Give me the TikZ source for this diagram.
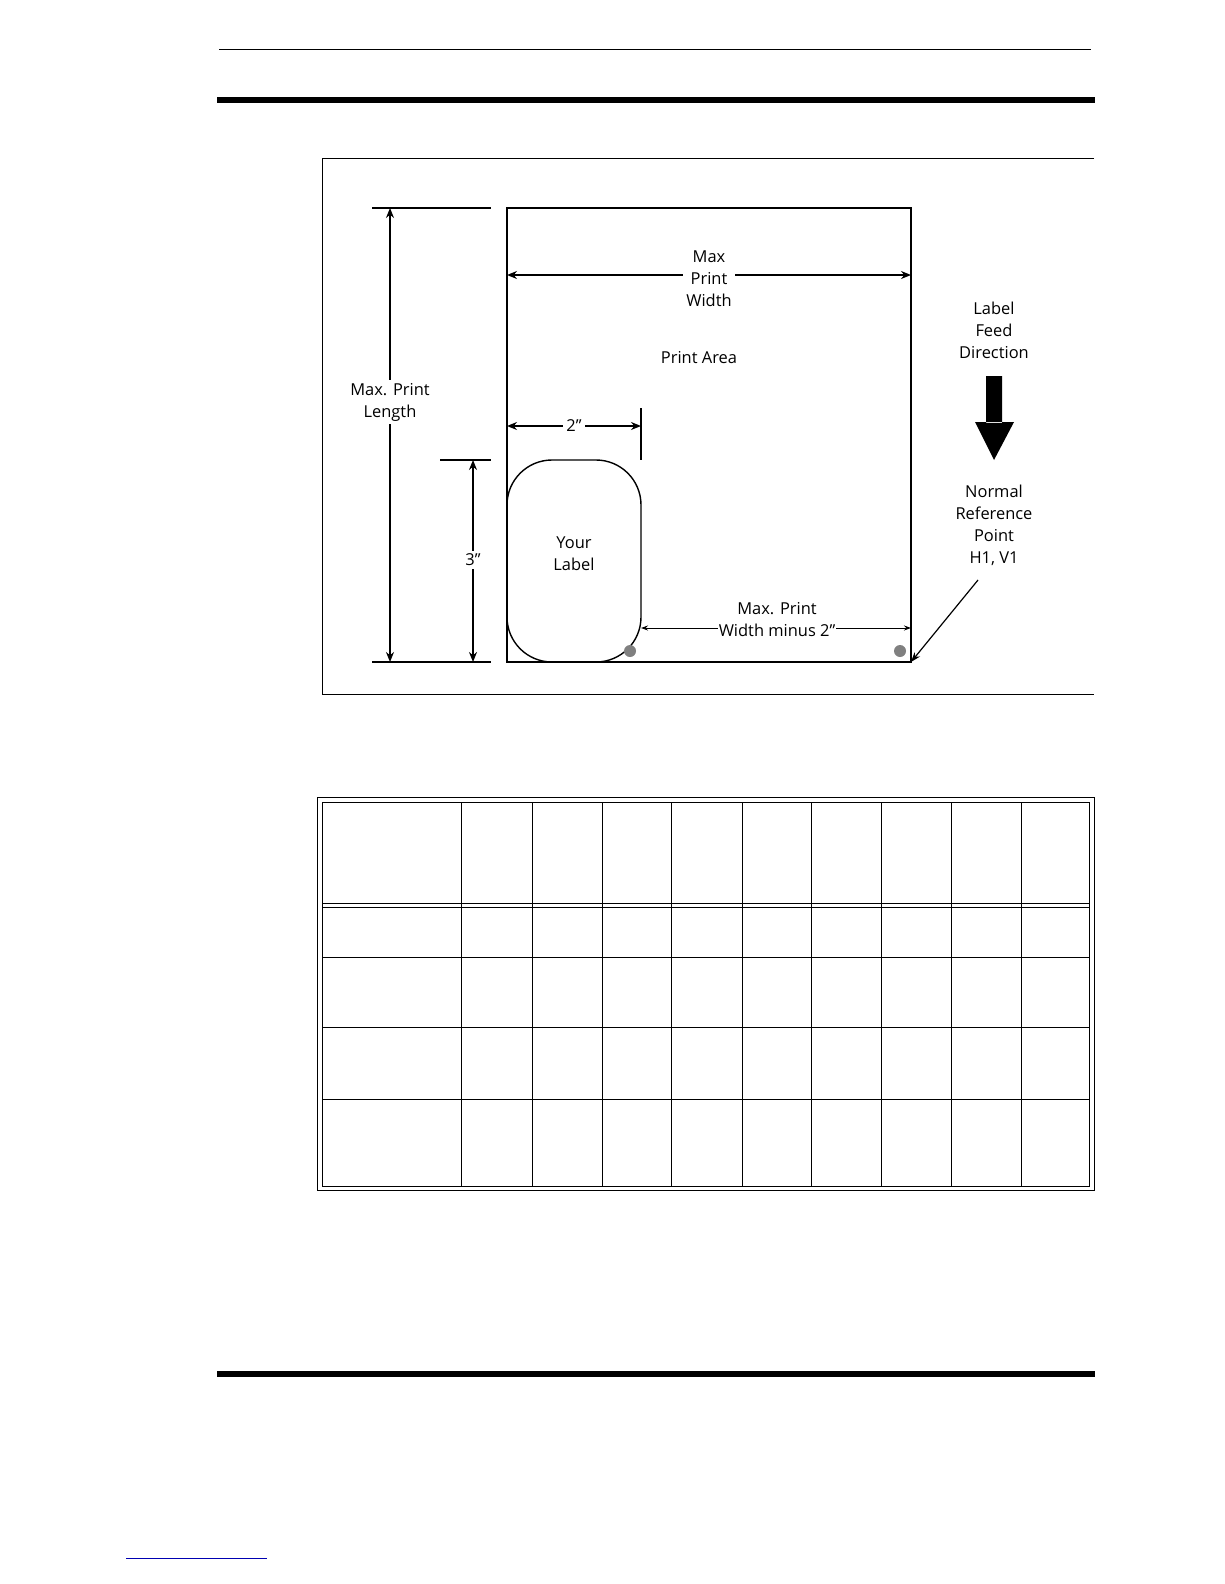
\documentclass[tikz,border=0pt]{standalone}
\usepackage{fontspec}
\setmainfont{Open Sans}
\usetikzlibrary{arrows.meta}
\tikzset{
  dim/.style={line width=1.8pt,{Stealth[length=10pt,width=8pt]}-{Stealth[length=10pt,width=8pt]}},
  lbl/.style={fill=white,align=center,font=\fontsize{16.5}{22}\selectfont,inner sep=3pt},
  txt/.style={align=center,font=\fontsize{16.5}{22}\selectfont},
  tick/.style={line width=1.4pt},
  rule/.style={line width=1pt},
}
\begin{document}
\begin{tikzpicture}[x=1bp,y=-1bp]
	\useasboundingbox (0,0) rectangle (1224,1584);
	% page rules
	\draw [line width=0.8pt] (219,49) -- (1091,49);
	\draw [line width=6pt] (217,100) -- (1095,100);
	\draw [line width=6pt] (217,1374) -- (1095,1374);
	\draw [blue!70!black, line width=0.8pt] (126,1558) -- (267,1558);
	% figure frame
	\draw [rule] (1094,158) -- (322,158) -- (322,694) -- (1094,694);
	\draw [line width=1.6pt] (507,208) rectangle (911,662);
	% max print width
	\coordinate (wl) at (507,275);
	\coordinate (wr) at (911,275);
	\draw [dim] (wl) -- (wr);
	\node [lbl] (mpw) at (709,279) {Max\\Print\\Width};
	\node [txt] (area) at (699,358) {Print Area};
	% max print length
	\draw [tick] (372,208) -- (491,208);
	\draw [tick] (372,662) -- (491,662);
	\coordinate (lt) at (390,208);
	\coordinate (lb) at (390,662);
	\draw [dim] (lt) -- (lb);
	\node [lbl] (mpl) at (390,402) {Max. Print\\Length};
	% 3 inch
	\draw [tick] (440,460) -- (491,460);
	\coordinate (tt) at (473,460);
	\coordinate (tb) at (473,662);
	\draw [dim] (tt) -- (tb);
	\node [lbl] (three) at (473,560) {3"};
	% 2 inch
	\draw [tick] (641,408) -- (641,460);
	\coordinate (sl) at (507,426);
	\coordinate (sr) at (641,426);
	\draw [dim] (sl) -- (sr);
	\node [lbl] (two) at (574,426) {2"};
	% your label
	\draw [line width=1.4pt, rounded corners=45bp] (507,460) rectangle (641,662);
	\node [txt] (your) at (574,554) {Your\\Label};
	\fill [gray] (630,651) circle (6);
	\fill [gray] (900,651) circle (6);
	% width minus 2
	\coordinate (ml) at (641,628);
	\coordinate (mr) at (911,628);
	\draw [line width=1pt,{Stealth[length=7pt,width=5pt]}-{Stealth[length=7pt,width=5pt]}] (ml) -- (mr);
	\node [lbl, inner sep=1pt] (minus) at (777,620) {Max. Print\\Width minus 2"};
	% feed direction
	\node [txt] (feed) at (994,330) {Label\\Feed\\Direction};
	\fill (986,376) rectangle (1002,423) (975,422) -- (1014,422) -- (994,460) -- cycle;
	\node [txt] (ref) at (994,525) {Normal\\Reference\\Point\\H1, V1};
	\coordinate (corner) at (911,662);
	\draw [line width=1.2pt,-{Stealth[length=10pt,width=7pt]}] (978,580) -- (corner);
	% table
	\draw [rule] (317,797) rectangle (1094,1190);
	\draw [rule] (322,802) rectangle (1089,1186);
	\foreach \x in {461,532,602,671,742,811,881,951,1021}
		\draw [rule] (\x,802) -- (\x,1186);
	\foreach \y in {903,907,957,1027,1099}
		\draw [rule] (322,\y) -- (1089,\y);
\end{tikzpicture}
\end{document}
